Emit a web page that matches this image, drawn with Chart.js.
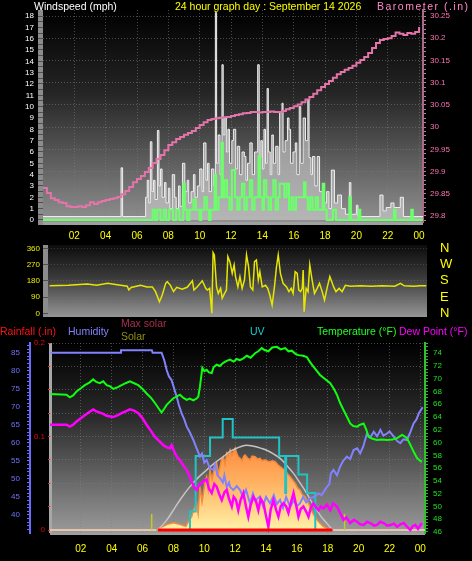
<!DOCTYPE html>
<html>
<head>
<meta charset="utf-8">
<title>24 hour graph</title>
<script src="https://cdn.jsdelivr.net/npm/chart.js@4.4.1/dist/chart.umd.min.js"></script>
<style>
  html, body { margin: 0; padding: 0; background: #000; }
  body { position: relative; width: 472px; height: 561px; overflow: hidden; font-family: "Liberation Sans", Arial, sans-serif; }
  canvas { position: absolute; left: 0; }
  .lbl { position: absolute; font-size: 10.5px; line-height: 12px; white-space: nowrap; }
</style>
</head>
<body>
<canvas id="windChart" width="472" height="245" style="top:0"></canvas>
<canvas id="dirChart" width="472" height="100" style="top:228px"></canvas>
<canvas id="tempChart" width="472" height="235" style="top:326px"></canvas>

<div class="lbl" style="left:34px;top:0;color:#fff">Windspeed (mph)</div>
<div class="lbl" style="left:175px;top:0;color:#ffff00">24 hour graph day : September 14 2026</div>
<div class="lbl" style="left:377px;top:0;color:#ff88c8;letter-spacing:1.5px">Barometer (.in)</div>

<div class="lbl" style="left:0;top:325px;color:#ff1010">Rainfall (.in)</div>
<div class="lbl" style="left:68px;top:325px;color:#8080ff">Humidity</div>
<div class="lbl" style="left:121px;top:317px;color:#a8304c">Max solar</div>
<div class="lbl" style="left:121px;top:330px;color:#909010">Solar</div>
<div class="lbl" style="left:250px;top:325px;color:#10d0d0">UV</div>
<div class="lbl" style="left:317px;top:325px;color:#20ff20">Temperature (°F)</div>
<div class="lbl" style="left:399px;top:325px;color:#ff00ff">Dew Point (°F)</div>

<script>
// ---- tick labels ----
const HOUR_TICKS = [2, 4, 6, 8, 10, 12, 14, 16, 18, 20, 22, 24];
const HOUR_LABELS = ['02', '04', '06', '08', '10', '12', '14', '16', '18', '20', '22', '00'];
const WIND_TICKS = [0, 1, 2, 3, 4, 5, 6, 7, 8, 9, 10, 11, 12, 13, 14, 15, 16, 17, 18];
const BARO_TICKS = [29.8, 29.85, 29.9, 29.95, 30, 30.05, 30.1, 30.15, 30.2, 30.25];
const BARO_LABELS = ['29.8', '29.85', '29.9', '29.95', '30', '30.05', '30.1', '30.15', '30.2', '30.25'];
const DIR_TICKS = [0, 90, 180, 270, 360];
const DIR_LABELS = ['0', '90', '180', '270', '360'];
const COMPASS_LABELS = ['N', 'E', 'S', 'W', 'N'];
const HUM_TICKS = [40, 45, 50, 55, 60, 65, 70, 75, 80, 85];
const RAIN_TICKS = [0, 0.1, 0.2];
const RAIN_LABELS = ['0', '0.1', '0.2'];
const TEMP_TICKS = [46, 48, 50, 52, 54, 56, 58, 60, 62, 64, 66, 68, 70, 72, 74];

// ---- barometer, one reading every 15 minutes from 00:00 ----
const BARO_STEP = 0.25;
const baroValues = [
  29.863, 29.852, 29.840, 29.836, 29.831, 29.829, 29.822, 29.820, 29.820, 29.822, 29.820, 29.824,
  29.831, 29.827, 29.831, 29.834, 29.836, 29.838, 29.840, 29.843, 29.849, 29.856, 29.865, 29.876,
  29.883, 29.890, 29.899, 29.908, 29.919, 29.928, 29.937, 29.948, 29.960, 29.966, 29.973, 29.978,
  29.983, 29.987, 29.991, 29.998, 30.005, 30.011, 30.016, 30.018, 30.020, 30.021, 30.022, 30.023,
  30.025, 30.027, 30.029, 30.031, 30.032, 30.034, 30.034, 30.033, 30.034, 30.034, 30.035, 30.034,
  30.034, 30.036, 30.040, 30.043, 30.047, 30.051, 30.056, 30.062, 30.068, 30.075, 30.083, 30.090,
  30.097, 30.104, 30.111, 30.119, 30.124, 30.129, 30.133, 30.138, 30.145, 30.151, 30.158, 30.167,
  30.178, 30.189, 30.196, 30.198, 30.200, 30.205, 30.213, 30.210, 30.207, 30.212, 30.210, 30.214,
  30.225
];

// ---- wind [hour, mph] ----
const gustPoints = [
  [0, 0.3], [4.98, 4.6], [5.08, 0.3], [6.55, 2.0], [6.65, 3.5], [6.75, 1.5], [6.85, 6.9], [6.95, 2.5],
  [7.05, 3.5], [7.15, 1.8], [7.3, 7.9], [7.4, 3.0], [7.5, 4.5], [7.6, 2.0], [7.75, 3.3], [7.85, 1.5],
  [8.0, 2.8], [8.1, 1.0], [8.25, 4.0], [8.4, 2.0], [8.5, 1.0], [8.65, 3.0], [8.75, 1.2], [8.9, 5.0],
  [9.05, 2.5], [9.2, 3.5], [9.3, 1.5], [9.45, 2.5], [9.6, 4.0], [9.7, 2.0], [9.85, 3.0], [10.0, 4.5],
  [10.15, 2.5], [10.25, 6.8], [10.4, 3.5], [10.5, 5.0], [10.6, 2.5], [10.75, 4.5], [10.9, 3.0],
  [11.0, 18.3], [11.08, 5.0], [11.18, 7.5], [11.3, 4.0], [11.42, 13.7], [11.5, 7.5], [11.6, 9.0],
  [11.7, 6.0], [11.8, 8.0], [11.9, 5.0], [12.05, 7.0], [12.15, 8.0], [12.3, 4.5], [12.4, 6.5],
  [12.55, 4.0], [12.7, 6.0], [12.85, 5.6], [12.95, 3.5], [13.05, 5.0], [13.2, 6.8], [13.35, 4.0],
  [13.5, 6.0], [13.7, 13.7], [13.8, 5.5], [13.9, 7.0], [14.0, 4.5], [14.1, 8.0], [14.2, 5.0],
  [14.3, 11.6], [14.38, 6.0], [14.5, 4.0], [14.6, 7.5], [14.7, 5.0], [14.85, 6.5], [15.0, 4.0],
  [15.1, 9.5], [15.25, 10.3], [15.32, 6.0], [15.45, 7.0], [15.6, 9.0], [15.7, 8.0], [15.8, 5.0],
  [15.95, 6.0], [16.1, 6.8], [16.2, 4.0], [16.35, 10.0], [16.45, 5.0], [16.6, 9.0], [16.75, 7.0],
  [16.9, 10.6], [16.98, 5.5], [17.1, 4.0], [17.2, 5.6], [17.35, 3.0], [17.5, 5.6], [17.65, 2.5],
  [17.85, 3.2], [17.95, 1.5], [18.1, 2.5], [18.25, 1.0], [18.4, 4.4], [18.6, 1.5], [18.8, 2.2],
  [19.05, 1.0], [19.3, 0.5], [19.55, 3.3], [19.65, 0.5], [20.0, 1.3], [20.1, 0.3], [21.5, 2.2],
  [21.7, 0.8], [21.9, 1.1], [22.2, 1.5], [22.4, 1.1], [22.8, 2.0], [23.0, 0.3], [24.25, 0.3]
];
const windPoints = [
  [0, 0], [7.0, 0.9], [7.15, 0], [7.3, 0.9], [7.5, 0], [7.7, 0.9], [7.85, 0], [8.05, 0.9], [8.3, 0],
  [8.5, 0.9], [8.7, 0], [8.95, 3.2], [9.05, 0.9], [9.2, 0], [9.35, 0.9], [9.6, 1.8], [9.75, 0.9],
  [10.0, 0], [10.1, 0.9], [10.3, 2.0], [10.45, 0.9], [10.6, 0], [10.7, 0.9], [10.95, 4.0], [11.05, 0.9],
  [11.2, 2.0], [11.4, 6.8], [11.48, 2.0], [11.6, 3.5], [11.75, 2.0], [11.9, 0.9], [12.05, 4.4],
  [12.25, 2.0], [12.4, 0.9], [12.55, 2.0], [12.7, 3.2], [12.85, 0.9], [13.0, 2.0], [13.2, 3.5],
  [13.35, 0.9], [13.5, 2.0], [13.75, 5.6], [13.85, 2.0], [14.0, 0.9], [14.1, 3.5], [14.25, 2.0],
  [14.4, 0.9], [14.55, 2.0], [14.7, 3.5], [14.85, 0.9], [15.0, 2.0], [15.1, 3.2], [15.4, 2.0],
  [15.55, 3.2], [15.7, 0.9], [15.85, 2.0], [16.0, 0.9], [16.15, 2.0], [16.4, 2.0], [16.65, 3.3],
  [16.75, 2.0], [16.9, 0.9], [17.05, 2.0], [17.2, 0.9], [17.4, 2.0], [17.55, 0.9], [17.85, 3.2],
  [17.95, 0.9], [18.1, 0], [18.5, 0.9], [18.7, 0], [19.55, 2.0], [19.65, 0], [20.15, 0.9], [20.25, 0],
  [22.4, 0.9], [22.5, 0], [23.5, 0.9], [23.6, 0], [24.25, 0]
];

// ---- wind direction [hour, degrees] ----
const dirPoints = [
  [0, 153], [1.2, 155], [2.4, 162], [3.0, 156], [3.7, 166], [4.3, 158], [4.95, 150], [5.05, 129],
  [5.2, 143], [5.8, 155], [6.2, 146], [6.55, 146], [6.75, 120], [7.0, 64], [7.18, 101], [7.4, 166],
  [7.5, 175], [7.7, 155], [7.9, 120], [8.1, 144], [8.45, 133], [8.77, 144], [9.1, 180], [9.2, 129],
  [9.4, 146], [9.73, 180], [9.95, 138], [10.05, 129], [10.2, 138], [10.34, 0], [10.42, 336],
  [10.5, 323], [10.64, 146], [10.75, 110], [10.9, 138], [11.0, 83], [11.15, 110], [11.27, 129],
  [11.36, 314], [11.49, 286], [11.64, 221], [11.76, 268], [11.85, 203], [12.0, 146], [12.13, 203],
  [12.27, 138], [12.42, 184], [12.55, 323], [12.68, 258], [12.8, 146], [12.95, 129], [13.06, 286],
  [13.18, 295], [13.3, 184], [13.4, 230], [13.55, 146], [13.76, 155], [13.9, 138], [14.03, 101],
  [14.18, 46], [14.33, 146], [14.46, 258], [14.57, 323], [14.71, 221], [14.88, 166], [15.1, 146],
  [15.25, 120], [15.4, 138], [15.52, 110], [15.65, 230], [15.78, 221], [15.88, 129], [16.0, 120],
  [16.1, 138], [16.16, 240], [16.22, 9], [16.35, 138], [16.47, 120], [16.58, 268], [16.73, 184],
  [16.88, 110], [17.05, 138], [17.2, 166], [17.37, 120], [17.52, 73], [17.7, 146], [17.86, 203],
  [17.98, 175], [18.1, 146], [18.25, 120], [18.45, 138], [18.64, 120], [18.85, 155], [19.17, 150],
  [19.8, 152], [20.5, 150], [21.2, 153], [22.0, 150], [22.36, 166], [22.6, 152], [23.2, 150],
  [23.6, 153], [24.0, 152]
];

// ---- bottom panel [hour, value] ----
const tempPoints = [
  [0, 67.6], [1.07, 67.5], [1.28, 67.1], [1.5, 67.4], [1.72, 68.0], [2.0, 68.5], [2.26, 69.0],
  [2.55, 69.4], [2.8, 69.9], [3.0, 69.5], [3.23, 69.3], [3.45, 69.6], [3.67, 69.0], [3.9, 68.8],
  [4.1, 68.4], [4.4, 68.7], [4.64, 69.0], [4.9, 69.3], [5.18, 69.6], [5.45, 69.3], [5.72, 69.0],
  [6.0, 68.4], [6.26, 67.7], [6.55, 67.0], [6.8, 66.2], [7.0, 65.5], [7.23, 64.7], [7.4, 65.3],
  [7.56, 65.9], [7.8, 66.5], [7.99, 66.95], [8.2, 67.2], [8.42, 67.5], [8.65, 67.0], [8.86, 66.7],
  [9.05, 66.9], [9.29, 66.6], [9.5, 66.9], [9.61, 67.2], [9.72, 68.8], [9.87, 71.7], [10.0, 71.2],
  [10.15, 71.4], [10.3, 71.0], [10.48, 70.9], [10.6, 71.8], [10.8, 72.2], [11.0, 72.0], [11.23, 72.5],
  [11.45, 72.8], [11.67, 73.0], [11.9, 72.7], [12.1, 73.1], [12.3, 72.9], [12.53, 73.2], [12.75, 73.6],
  [13.0, 73.3], [13.29, 74.0], [13.5, 74.3], [13.72, 74.8], [13.9, 74.5], [14.15, 74.3], [14.4, 74.9],
  [14.7, 75.0], [14.95, 74.6], [15.24, 74.8], [15.45, 74.3], [15.67, 74.4], [15.9, 73.9], [16.1, 73.7],
  [16.4, 73.6], [16.64, 73.4], [16.85, 72.6], [17.07, 71.9], [17.3, 71.2], [17.5, 70.6], [17.8, 70.0],
  [18.16, 69.3], [18.4, 68.4], [18.59, 67.5], [18.8, 66.2], [19.02, 65.1], [19.25, 64.0], [19.45, 63.0],
  [19.65, 62.6], [19.89, 62.5], [20.1, 62.8], [20.32, 63.0], [20.5, 62.0], [20.64, 60.9], [20.9, 60.6],
  [21.19, 60.4], [21.5, 60.5], [21.84, 60.4], [22.2, 60.5], [22.49, 60.7], [22.81, 61.2], [22.95, 61.0],
  [23.13, 60.7], [23.3, 59.9], [23.46, 59.1], [23.6, 58.4], [23.78, 57.6], [23.95, 57.2], [24.1, 57.0]
];
const dewPoints = [
  [0, 62.8], [1.07, 62.8], [1.28, 62.5], [1.5, 62.8], [1.72, 63.3], [2.0, 63.8], [2.26, 64.3],
  [2.55, 64.8], [2.8, 65.2], [3.0, 64.9], [3.23, 64.7], [3.45, 64.5], [3.67, 64.2], [3.9, 64.1],
  [4.1, 64.0], [4.4, 64.3], [4.64, 64.6], [4.9, 64.9], [5.18, 65.2], [5.45, 65.0], [5.72, 64.6],
  [6.0, 63.8], [6.26, 62.8], [6.55, 61.8], [6.8, 60.9], [7.1, 60.2], [7.34, 59.6], [7.55, 59.3],
  [7.77, 59.1], [7.88, 59.6], [8.05, 58.6], [8.21, 57.8], [8.4, 57.3], [8.53, 56.8], [8.7, 56.2],
  [8.86, 55.7], [9.0, 55.0], [9.18, 53.9], [9.35, 53.0], [9.5, 52.6], [9.65, 53.3], [9.83, 53.7],
  [10.0, 54.0], [10.15, 54.2], [10.3, 52.8], [10.48, 52.1], [10.65, 53.5], [10.8, 53.1], [10.95, 52.0],
  [11.13, 51.0], [11.3, 52.2], [11.45, 52.6], [11.6, 51.2], [11.78, 50.0], [11.9, 51.5], [12.05, 51.0],
  [12.2, 49.4], [12.35, 51.0], [12.53, 52.1], [12.7, 50.0], [12.85, 48.4], [13.0, 50.2], [13.18, 51.5],
  [13.35, 50.8], [13.5, 49.4], [13.65, 51.2], [13.83, 50.5], [14.0, 48.5], [14.15, 46.8], [14.3, 49.5],
  [14.48, 51.0], [14.65, 49.5], [14.8, 48.4], [14.95, 50.0], [15.13, 50.5], [15.3, 50.0], [15.45, 49.0],
  [15.6, 50.5], [15.78, 52.1], [15.95, 50.2], [16.1, 48.4], [16.25, 49.6], [16.42, 50.0], [16.6, 49.2],
  [16.75, 48.4], [16.9, 49.8], [17.07, 50.5], [17.25, 49.8], [17.4, 49.4], [17.55, 50.0], [17.72, 49.7],
  [17.95, 50.3], [18.16, 49.4], [18.35, 50.5], [18.59, 50.0], [18.8, 49.0], [19.02, 47.9], [19.2, 48.3],
  [19.45, 47.4], [19.7, 47.9], [19.89, 47.6], [20.1, 47.2], [20.32, 47.1], [20.55, 47.6], [20.75, 47.4],
  [21.0, 47.0], [21.19, 47.1], [21.4, 47.6], [21.62, 47.4], [21.85, 47.0], [22.06, 47.1], [22.3, 47.3],
  [22.49, 46.8], [22.7, 47.2], [22.92, 47.4], [23.15, 46.8], [23.35, 46.3], [23.5, 46.9], [23.67, 47.1],
  [23.85, 46.5], [24.1, 47.4]
];
const humPoints = [
  [0, 85.0], [4.55, 85.0], [4.6, 85.7], [6.6, 85.7], [6.65, 85.0], [7.23, 85.0], [7.4, 83], [7.56, 80.2],
  [7.7, 78.5], [7.88, 77.4], [8.05, 75], [8.21, 72.8], [8.35, 70.5], [8.53, 68.2], [8.7, 66.5],
  [8.86, 64.5], [9.05, 63], [9.29, 60.8], [9.5, 58.5], [9.72, 56.2], [9.85, 57], [10.0, 54.5],
  [10.15, 55.2], [10.35, 53], [10.58, 52.5], [10.7, 54], [10.85, 51], [11.02, 50.2], [11.2, 49],
  [11.3, 51], [11.45, 47.8], [11.6, 49], [11.67, 47.8], [11.88, 46.9], [12.1, 48], [12.32, 46.9],
  [12.5, 45], [12.7, 47], [12.96, 43.2], [13.15, 46], [13.3, 44], [13.61, 45.1], [13.8, 42.5],
  [14.0, 45], [14.26, 43.2], [14.5, 45.5], [14.7, 43], [14.91, 44.2], [15.1, 42], [15.3, 45],
  [15.56, 42.3], [15.8, 44], [16.0, 42.5], [16.2, 43.2], [16.4, 45], [16.6, 43.5], [16.85, 44.6],
  [17.1, 45], [17.4, 46.0], [17.6, 45.5], [17.94, 47.8], [18.1, 48.5], [18.2, 51.5], [18.37, 52.5],
  [18.6, 51], [18.8, 53.4], [19.0, 55], [19.24, 56.2], [19.45, 55.5], [19.67, 58.0], [19.9, 58.5],
  [20.1, 57.1], [20.3, 59], [20.54, 62.6], [20.75, 61.5], [20.98, 63.1], [21.2, 61.8], [21.41, 63.6],
  [21.6, 62], [21.84, 62.6], [22.0, 63.2], [22.28, 61.7], [22.5, 60.5], [22.7, 59.9], [22.9, 61],
  [23.13, 60.8], [23.35, 63], [23.56, 65.4], [23.75, 66.5], [23.9, 68.2], [24.15, 69.9]
];
const solarPoints = [
  [0, 0], [6.9, 0], [7.2, 15], [7.6, 30], [8.0, 39], [8.4, 30], [8.8, 20], [9.0, 50], [9.18, 71],
  [9.3, 107], [9.5, 143], [9.6, 90], [9.72, 232], [9.85, 150], [9.94, 196], [10.05, 260], [10.15, 285],
  [10.25, 220], [10.37, 321], [10.5, 270], [10.58, 303], [10.7, 340], [10.8, 357], [10.9, 300],
  [11.02, 339], [11.12, 380], [11.23, 392], [11.35, 350], [11.45, 410], [11.55, 395], [11.67, 428],
  [11.78, 400], [11.88, 419], [12.0, 437], [12.1, 410], [12.2, 392], [12.32, 383], [12.45, 370],
  [12.55, 395], [12.64, 401], [12.8, 385], [12.96, 375], [13.1, 395], [13.29, 392], [13.45, 380],
  [13.61, 383], [13.75, 370], [13.94, 375], [14.1, 368], [14.26, 365], [14.4, 370], [14.59, 365],
  [14.75, 350], [14.91, 339], [15.05, 330], [15.24, 321], [15.4, 300], [15.56, 285], [15.7, 270],
  [15.89, 250], [16.05, 225], [16.2, 214], [16.35, 190], [16.53, 178], [16.7, 150], [16.85, 125],
  [17.0, 95], [17.18, 71], [17.35, 50], [17.5, 36], [17.7, 20], [17.94, 9], [18.2, 3], [18.37, 0],
  [24.3, 0]
];
const maxSolarPoints = [
  [7.0, 0], [7.56, 53], [8.0, 107], [8.5, 170], [9.07, 232], [9.6, 280], [10.15, 321], [10.7, 360],
  [11.23, 392], [11.67, 420], [12.1, 437], [12.53, 451], [12.9, 452], [13.29, 446], [13.65, 438],
  [14.0, 428], [14.45, 408], [14.91, 383], [15.35, 345], [15.78, 303], [16.2, 252], [16.64, 196],
  [16.95, 150], [17.29, 107], [17.6, 68], [17.94, 36], [18.27, 5], [18.4, 0]
];
const uvPoints = [
  [9.0, 0], [9.07, 1], [9.44, 4], [10.37, 5], [11.19, 6], [11.84, 5], [14.85, 4], [15.24, 2],
  [15.3, 4], [16.1, 3], [16.66, 2], [17.19, 0]
];
const rainPoints = [[7.0, 0], [18.3, 0]];
const sunMarkHours = [6.59, 19.09];

// ---- helpers ----
const FONT = 'Liberation Sans';
const GRID = 'rgba(128,128,128,0.55)';
const pts = a => a.map(([x, y]) => ({ x, y }));
const range = (a, b, s) => { const out = []; for (let v = a; v <= b + 1e-9; v += s) out.push(Math.round(v * 1000) / 1000); return out; };
const majorIndex = (list, v) => list.findIndex(t => Math.abs(t - v) < 1e-6);

function valueAxis(o) {
  const gridAt = o.gridAt || o.majors;
  return {
    type: 'linear', position: o.position, min: o.min, max: o.max, weight: o.weight || 0,
    afterFit: s => { s.width = o.width; },
    afterBuildTicks: s => { s.ticks = (o.minor || o.majors).map(v => ({ value: v })); },
    ticks: {
      autoSkip: false, color: o.color, padding: o.pad, font: { family: FONT, size: o.size || 8 },
      callback: v => { const i = majorIndex(o.majors, v); return i < 0 ? '' : o.labels[i]; }
    },
    grid: {
      drawOnChartArea: !!o.grid, drawTicks: !!o.tickLen, tickLength: o.tickLen || 0,
      tickColor: o.tickColor || 'rgba(0,0,0,0)', tickWidth: 1,
      color: c => (o.grid && c.tick && majorIndex(gridAt, c.tick.value) >= 0) ? o.grid : 'rgba(0,0,0,0)'
    },
    border: { display: !!o.border, color: o.border || 'rgba(0,0,0,0)', width: o.borderWidth || 2, dash: [1, 2] }
  };
}

function hourAxis(min, max, height, pad, show) {
  return {
    type: 'linear', min, max, display: show,
    afterFit: s => { s.height = height; },
    afterBuildTicks: s => { s.ticks = HOUR_TICKS.map(v => ({ value: v })); },
    ticks: {
      autoSkip: false, maxRotation: 0, color: '#ffff00', padding: pad, font: { family: FONT, size: 10 },
      callback: v => HOUR_LABELS[majorIndex(HOUR_TICKS, v)]
    },
    grid: { color: GRID, drawTicks: false },
    border: { display: false, dash: [1, 2] }
  };
}

function panel(stops, extra) {
  return {
    id: 'panel',
    beforeDraw(chart) {
      const { ctx, chartArea: a } = chart;
      const g = ctx.createLinearGradient(0, a.top, 0, a.bottom);
      stops.forEach(([o, c]) => g.addColorStop(o, c));
      ctx.save();
      ctx.fillStyle = g;
      ctx.fillRect(a.left, a.top, a.right - a.left, a.bottom - a.top);
      if (extra) extra(ctx, a);
      ctx.restore();
    }
  };
}

const common = {
  responsive: false, animation: false, events: [],
  plugins: { legend: { display: false }, tooltip: { enabled: false } },
  elements: { point: { radius: 0 }, line: { tension: 0 } }
};

// ---- wind speed + barometer ----
new Chart(document.getElementById('windChart'), {
  type: 'line',
  data: {
    datasets: [
      { label: 'Barometer', data: baroValues.map((v, i) => ({ x: i * BARO_STEP, y: v })), yAxisID: 'yBaro',
        stepped: true, borderColor: '#e474aa', borderWidth: 2, order: 1 },
      { label: 'Wind speed', data: pts(windPoints), yAxisID: 'yWind', stepped: true,
        borderColor: '#6cff6c', borderWidth: 2, order: 2 },
      { label: 'Gust', data: pts(gustPoints), yAxisID: 'yWind', stepped: true, borderColor: '#eeeeee',
        borderWidth: 1, backgroundColor: 'rgba(205,205,205,0.62)', fill: 'origin', order: 3 }
    ]
  },
  options: {
    ...common,
    layout: { padding: { top: 10, left: 0, right: 0, bottom: 0 } },
    scales: {
      x: hourAxis(0, 24.25, 23, 8, true),
      yWind: valueAxis({ position: 'left', min: -0.18, max: 18.53, width: 43, majors: WIND_TICKS,
        labels: WIND_TICKS.map(String), minor: range(0, 18, 0.5), color: '#ffffff', pad: 4,
        tickLen: 5, tickColor: '#505050' }),
      yBaro: valueAxis({ position: 'right', min: 29.7865, max: 30.2635, width: 49, majors: BARO_TICKS,
        labels: BARO_LABELS, minor: range(29.79, 30.26, 0.01), color: '#ff72b4', pad: 4,
        tickLen: 3, tickColor: '#c8789c', grid: GRID, border: '#a86c88' })
    }
  },
  plugins: [panel([[0, '#000000'], [0.4, '#262626'], [1, '#909090']], (ctx, a) => {
    ctx.fillStyle = '#8c8c8c';
    ctx.fillRect(38, a.top, 5, a.bottom - a.top + 3);
    ctx.fillStyle = '#a0a0a0';
    ctx.fillRect(a.left, a.bottom, a.right - a.left, 3);
  })]
});

// ---- wind direction ----
new Chart(document.getElementById('dirChart'), {
  type: 'line',
  data: {
    datasets: [
      { label: 'Direction', data: pts(dirPoints), yAxisID: 'yDir', borderColor: '#e6e600', borderWidth: 1.5 }
    ]
  },
  options: {
    ...common,
    layout: { padding: { top: 17, left: 0, right: 0, bottom: 11 } },
    scales: {
      x: { type: 'linear', min: -0.1, max: 24.05, display: false },
      yDir: valueAxis({ position: 'left', min: -20.5, max: 378.3, width: 48, majors: DIR_TICKS,
        labels: DIR_LABELS, color: '#eeee00', pad: 3, tickLen: 5, tickColor: '#505050',
        grid: 'rgba(128,128,128,0.35)' }),
      yCompass: valueAxis({ position: 'right', min: -20.5, max: 378.3, width: 45, majors: DIR_TICKS,
        labels: COMPASS_LABELS, color: '#ffff00', pad: 2, size: 13, tickLen: 11 })
    }
  },
  plugins: [panel([[0, '#0c0c0c'], [0.45, '#3a3a3a'], [1, '#959595']], (ctx, a) => {
    ctx.fillStyle = '#8c8c8c';
    ctx.fillRect(43, a.top, 5, a.bottom - a.top);
  })]
});

// ---- temperature, humidity, solar, UV, rain ----
new Chart(document.getElementById('tempChart'), {
  type: 'line',
  data: {
    datasets: [
      { label: 'Rainfall', data: pts(rainPoints), yAxisID: 'yRain', borderColor: '#ff0000', borderWidth: 3, order: 1 },
      { label: 'Dew Point', data: pts(dewPoints), yAxisID: 'yTemp', borderColor: '#ff00ff', borderWidth: 2.5, order: 2 },
      { label: 'Temperature', data: pts(tempPoints), yAxisID: 'yTemp', borderColor: '#10ff10', borderWidth: 2, order: 3 },
      { label: 'Humidity', data: pts(humPoints), yAxisID: 'yHum', borderColor: '#8282ff', borderWidth: 2, order: 4 },
      { label: 'UV', data: pts(uvPoints), yAxisID: 'yUV', stepped: true, borderColor: '#20c4c4', borderWidth: 2, order: 5 },
      { label: 'Sun', data: sunMarkHours.flatMap(h => [{ x: h, y: 0 }, { x: h, y: 85 }, { x: h, y: null }]),
        yAxisID: 'ySolar', borderColor: '#c8c820', borderWidth: 1.5, order: 6 },
      { label: 'Max solar', data: pts(maxSolarPoints), yAxisID: 'ySolar', borderColor: '#c4c4c4',
        borderWidth: 1.5, tension: 0.4, order: 7 },
      { label: 'Solar', data: pts(solarPoints), yAxisID: 'ySolar', fill: 'origin', borderWidth: 1.5, order: 8,
        segment: { borderColor: s => (s.p0.parsed.y === 0 && s.p1.parsed.y === 0) ? '#ffd4b4' : '#f28a3c' },
        backgroundColor: c => {
          const ch = c.chart;
          if (!ch.chartArea) return '#ffa050';
          const sy = ch.scales.ySolar;
          const g = ch.ctx.createLinearGradient(0, sy.getPixelForValue(440), 0, sy.getPixelForValue(0));
          g.addColorStop(0, '#ff8c3e');
          g.addColorStop(0.45, '#ffb464');
          g.addColorStop(1, '#fff2a8');
          return g;
        } }
    ]
  },
  options: {
    ...common,
    layout: { padding: { top: 17, left: 0, right: 0, bottom: 0 } },
    scales: {
      x: hourAxis(0, 24.3, 28, 10, true),
      yRain: valueAxis({ position: 'left', weight: 1, min: -0.0032, max: 0.2, width: 20, majors: RAIN_TICKS,
        labels: RAIN_LABELS, minor: range(0, 0.2, 0.025), gridAt: range(0, 0.2, 0.025), color: '#ee0000',
        pad: 3, tickLen: 2, tickColor: '#ff2020', grid: GRID }),
      yHum: valueAxis({ position: 'left', weight: 2, min: 35.0, max: 87.7, width: 30, majors: HUM_TICKS,
        labels: HUM_TICKS.map(String), minor: range(36, 87, 1), color: '#7070ff', pad: 7,
        tickLen: 3, tickColor: '#6a6aff', border: '#6a6aff' }),
      yTemp: valueAxis({ position: 'right', min: 45.84, max: 75.6, width: 47, majors: TEMP_TICKS,
        labels: TEMP_TICKS.map(String), minor: range(46, 75.5, 0.5), color: '#20e020', pad: 5,
        tickLen: 3, tickColor: '#20c020', border: '#30c030' }),
      ySolar: { type: 'linear', min: -16, max: 1000, display: false },
      yUV: { type: 'linear', min: -0.162, max: 10.1, display: false }
    }
  },
  plugins: [panel([[0, '#000000'], [0.4, '#2c2c2c'], [1, '#9a9a9a']], (ctx, a) => {
    ctx.fillStyle = '#a8a8a8';
    ctx.fillRect(a.left - 1, a.top, 3, a.bottom - a.top);
    ctx.fillStyle = '#a0a0a0';
    ctx.fillRect(a.left, a.bottom, a.right - a.left, 2);
  })]
});
</script>
</body>
</html>
